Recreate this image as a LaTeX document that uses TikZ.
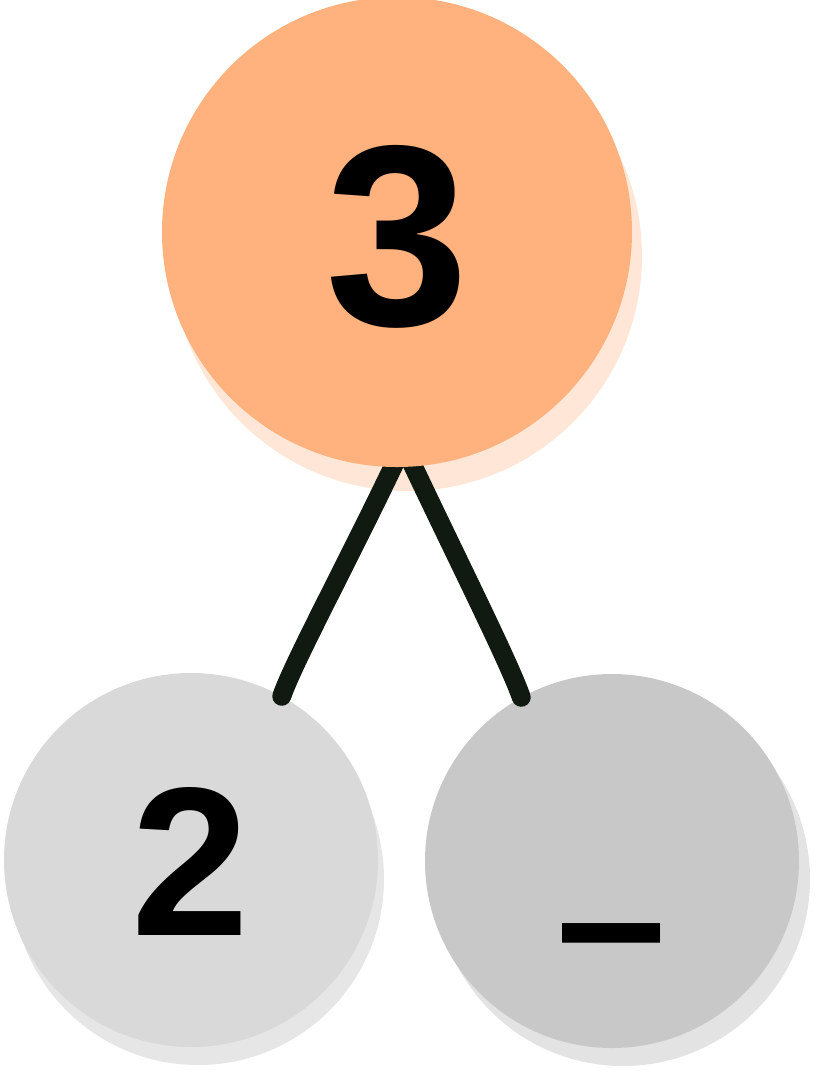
\documentclass[tikz,border=0pt]{standalone}
\usepackage{fontspec}
\setmainfont{Liberation Sans}
\definecolor{topfill}{HTML}{FFB27D}
\definecolor{topshadow}{HTML}{FFE6D6}
\definecolor{leftfill}{HTML}{D9D9D9}
\definecolor{leftshadow}{HTML}{E6E6E6}
\definecolor{rightfill}{HTML}{C8C8C8}
\definecolor{rightshadow}{HTML}{E3E3E3}
\definecolor{edgecol}{HTML}{111A11}
\tikzset{
  ball/.style={circle, inner sep=0pt, draw=none},
  edge/.style={draw=edgecol, line width=19pt, line cap=round, shorten <=-20pt},
  digit/.style={font=\bfseries, text=black, inner sep=0pt}
}
\begin{document}
\begin{tikzpicture}[x=1pt,y=-1pt]
\useasboundingbox (0,0) rectangle (818,1072);
% shadows
\fill[topshadow] (407,256) circle (235);
\fill[leftshadow] (198,879) circle (186);
\fill[rightshadow] (623,879) circle (187);
% lower circles
\node[ball, fill=leftfill, minimum size=374pt] (L) at (191,860) {};
\node[ball, fill=rightfill, minimum size=374pt] (R) at (612,861) {};
% top circle position (filled after the connectors)
\path (397,232) node[ball, minimum size=470pt] (Tpos) {};
\draw[edge] (Tpos.-91) .. controls +(-40,85) and +(12,-35) .. (L.61);
\draw[edge] (Tpos.-86) .. controls +(40,85) and +(-12,-35) .. (R.119);
\node[ball, fill=topfill, minimum size=470pt] (T) at (397,232) {};
% labels
\node[digit, anchor=base, font=\bfseries\fontsize{258}{258}\selectfont] (t3) at (397,325) {3};
\node[digit, anchor=base, font=\bfseries\fontsize{212}{212}\selectfont] (t2) at (190,935) {2};
\node[digit, font=\bfseries\fontsize{198}{198}\selectfont] (tdash) at (612,955) {–};
\end{tikzpicture}
\end{document}
